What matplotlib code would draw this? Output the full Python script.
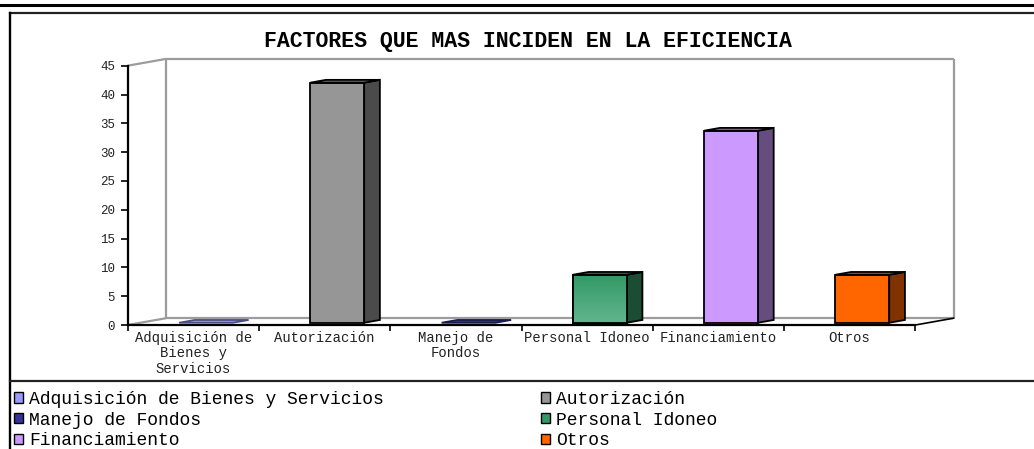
import numpy as np
import matplotlib.pyplot as plt
import matplotlib.colors as mcolors
from matplotlib.patches import Polygon, Patch
from matplotlib.lines import Line2D

# datos del grafico
categorias = ['Adquisición de Bienes y Servicios', 'Autorización', 'Manejo de Fondos',
              'Personal Idoneo', 'Financiamiento', 'Otros']
etiquetas_x = ['Adquisición de\nBienes y\nServicios', 'Autorización', 'Manejo de\nFondos',
               'Personal Idoneo', 'Financiamiento', 'Otros']
porcentajes = [0, 41.67, 0, 8.33, 33.33, 8.33]
ticks_y = [0, 5, 10, 15, 20, 25, 30, 35, 40, 45]
titulo = 'FACTORES QUE MAS INCIDEN EN LA EFICIENCIA'

colores = ['#9999FF', '#969696', '#333399', '#339966', '#CC99FF', '#FF6600']
W, H = 1034, 449
fuente = 'Liberation Mono'


def oscuro(color, f):
    r, g, b = mcolors.to_rgb(color)
    return (r * f, g * f, b * f)


def fx(px):
    return px / W


def fy(py):
    return 1 - py / H


fig = plt.figure(figsize=(W / 100, H / 100), dpi=100)
ax = fig.add_axes([fx(127.7), fy(325), fx(915.3) - fx(127.7), fy(65.7) - fy(325)])

# profundidad de la perspectiva
DX, DY = 0.292, 1.18
gris = '#9C9C9C'
ymax = ticks_y[-1]
n = len(categorias)
kw = dict(color=gris, lw=1.6, clip_on=False, zorder=1, solid_capstyle='butt')
ax.plot([0, DX], [ymax, ymax + DY], **kw)
ax.plot([0, DX], [0, DY], **kw)
ax.plot([DX, DX], [DY, ymax + DY], **kw)
ax.plot([DX, n + DX], [ymax + DY, ymax + DY], **kw)
ax.plot([n + DX, n + DX], [ymax + DY, DY], **kw)
ax.plot([DX, n + DX], [DY, DY], **kw)
ax.plot([n, n + DX], [0, DY], color='black', lw=1.2, clip_on=False, zorder=1)

# barras 3D
ancho = 0.41
f0, f1 = 0.33, 0.74
ddx, ddy = (f1 - f0) * DX, (f1 - f0) * DY
for i, (v, c) in enumerate(zip(porcentajes, colores)):
    x0 = i + 0.5 - ancho / 2 + f0 * DX
    x1 = x0 + ancho
    y0 = f0 * DY
    tope = y0 + v
    tapa = [(x0, tope), (x1, tope), (x1 + ddx, tope + ddy), (x0 + ddx, tope + ddy)]
    if v > 0:
        lado = [(x1, y0), (x1 + ddx, y0 + ddy), (x1 + ddx, tope + ddy), (x1, tope)]
        ax.add_patch(Polygon(lado, closed=True, facecolor=oscuro(c, 0.5),
                             edgecolor='black', lw=1.3, clip_on=False, zorder=3))
        frente = Polygon([(x0, y0), (x1, y0), (x1, tope), (x0, tope)], closed=True,
                         facecolor=c, edgecolor='black', lw=1.3, clip_on=False, zorder=3)
        ax.add_patch(frente)
        if categorias[i] == 'Personal Idoneo':
            # relleno degradado del frente
            t = np.linspace(0, 1, 64)[:, None, None]
            arriba = np.array(mcolors.to_rgb(c))
            abajo = np.array(mcolors.to_rgb('#62B58E'))
            img = arriba + (abajo - arriba) * t
            im = ax.imshow(img, extent=(x0, x1, y0, tope), origin='upper',
                           aspect='auto', zorder=3.5)
            im.set_clip_path(frente)
            ax.add_patch(Polygon([(x0, y0), (x1, y0), (x1, tope), (x0, tope)],
                                 closed=True, fill=False, edgecolor='black', lw=1.3,
                                 clip_on=False, zorder=3.6))
    ax.add_patch(Polygon(tapa, closed=True, facecolor=oscuro(c, 0.78) if v > 0 else c,
                         edgecolor='black' if v > 0 else oscuro(c, 0.5), lw=1.3,
                         clip_on=False, zorder=3.7))

ax.set_xlim(0, n)
ax.set_ylim(0, ymax)
ax.set_facecolor('none')
for s in ('top', 'right'):
    ax.spines[s].set_visible(False)
for s in ('left', 'bottom'):
    ax.spines[s].set_linewidth(1.6)
    ax.spines[s].set_zorder(2)

ax.set_xticks(range(n + 1))
ax.set_xticklabels([])
ax.set_xticks(np.arange(n) + 0.5, minor=True)
ax.set_xticklabels(etiquetas_x, minor=True, fontsize=10, family=fuente,
                   color='#222222', linespacing=1.15, va='top')
ax.tick_params(axis='x', which='major', direction='out', length=4, width=1.2)
ax.tick_params(axis='x', which='minor', length=0, pad=4)
ax.set_yticks(ticks_y)
ax.set_yticklabels([str(t) for t in ticks_y], fontsize=9, family=fuente, color='#222222')
ax.tick_params(axis='y', direction='out', length=5, width=1.2, pad=4)

fig.text(fx(528), fy(42), titulo, ha='center', va='center', fontsize=15.5,
         fontweight='bold', family=fuente)

# marcos
fig.add_artist(Line2D([0, 1], [fy(5), fy(5)], color='black', lw=2.2))
fig.add_artist(Line2D([fx(10), 1], [fy(13), fy(13)], color='#222222', lw=1.6))
fig.add_artist(Line2D([fx(10), fx(10)], [fy(12.5), 0], color='black', lw=1.7))
fig.add_artist(Line2D([fx(10), 1], [fy(381), fy(381)], color='#222222', lw=1.6))

# leyenda en dos columnas
parches = [Patch(facecolor=c, edgecolor='black', linewidth=1.0) for c in colores]
for idx, xpix in (([0, 2, 4], 14), ([1, 3, 5], 541)):
    fig.legend([parches[k] for k in idx], [categorias[k] for k in idx],
               loc='upper left', bbox_to_anchor=(fx(xpix), fy(391)),
               frameon=False, borderpad=0, borderaxespad=0,
               handlelength=0.5, handleheight=0.5, handletextpad=0.35,
               labelspacing=0.2, prop={'family': fuente, 'size': 13})

fig.savefig('out.png', dpi=100)
